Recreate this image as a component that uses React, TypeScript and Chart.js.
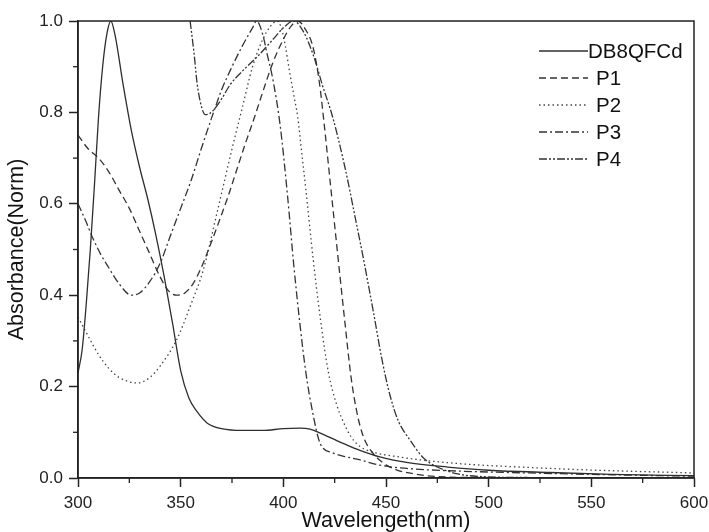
import React, { useEffect, useRef } from 'react';
import { Chart, registerables } from 'chart.js';
Chart.register(...registerables);

const seriesNames = ['DB8QFCd', 'P1', 'P2', 'P3', 'P4'];

const wlDB = [300, 302, 304, 306, 308, 310, 312, 314, 316, 318, 322, 326, 330, 334, 338, 342, 346, 350, 354, 358, 363, 370, 380, 390, 400, 408, 413, 418, 424, 430, 437, 447, 460, 480, 500, 530, 560, 600];
const absDB = [0.23, 0.28, 0.38, 0.5, 0.64, 0.79, 0.9, 0.97, 1.0, 0.97, 0.86, 0.76, 0.68, 0.61, 0.53, 0.44, 0.34, 0.235, 0.175, 0.145, 0.12, 0.108, 0.104, 0.104, 0.108, 0.109, 0.107, 0.098, 0.086, 0.074, 0.061, 0.046, 0.034, 0.024, 0.017, 0.012, 0.008, 0.005];

const wlP1 = [300, 305, 310, 315, 320, 325, 330, 335, 340, 344, 348, 352, 356, 360, 364, 369, 373, 377, 381, 386, 390, 395, 400, 404, 407, 411, 414, 416, 418, 420, 423, 426.6, 430, 433, 436, 439, 443, 448.6, 455, 465, 475, 500, 600];
const absP1 = [0.75, 0.72, 0.7, 0.67, 0.63, 0.59, 0.54, 0.49, 0.44, 0.41, 0.4, 0.405, 0.425, 0.46, 0.505, 0.565, 0.615, 0.67, 0.725, 0.79, 0.845, 0.91, 0.96, 0.99, 1.0, 0.98, 0.95, 0.91, 0.85, 0.77, 0.64, 0.484, 0.34, 0.22, 0.14, 0.09, 0.058, 0.033, 0.018, 0.008, 0.003, 0.001, 0.0];

const wlP2 = [300, 305, 310, 315, 320, 329, 335, 340, 348, 355, 361, 368, 375, 380, 385, 390, 394, 397, 399, 401, 403, 405, 407, 409, 411, 414.5, 418, 422, 426, 429, 433, 437, 445, 455, 468, 490, 520, 546, 600];
const absP2 = [0.352, 0.31, 0.27, 0.24, 0.22, 0.208, 0.22, 0.245, 0.302, 0.38, 0.455, 0.586, 0.72, 0.81, 0.9, 0.96, 0.99, 1.0, 0.985, 0.945, 0.89, 0.84, 0.79, 0.71, 0.63, 0.48, 0.35, 0.23, 0.16, 0.125, 0.09, 0.07, 0.055, 0.047, 0.039, 0.03, 0.023, 0.018, 0.011];

const wlP3 = [300, 304, 307, 311, 315, 320, 326, 330, 335, 340, 345, 350, 355, 360, 366, 370, 375, 380, 385, 387, 390, 392, 395, 398.5, 402, 405, 408, 411, 414, 418, 424, 430, 437, 447, 460, 480, 520, 560, 600];
const absP3 = [0.6, 0.56, 0.527, 0.49, 0.46, 0.425, 0.4, 0.405, 0.43, 0.47, 0.53, 0.59, 0.65, 0.72, 0.8, 0.85, 0.9, 0.945, 0.985, 1.0, 0.97, 0.93, 0.87, 0.77, 0.62, 0.47, 0.34, 0.23, 0.15, 0.075, 0.055, 0.047, 0.04, 0.028, 0.021, 0.016, 0.011, 0.007, 0.004];

const wlP4 = [354.6, 356.5, 358, 360, 362, 364, 366, 370, 374, 380, 388, 395, 400, 405, 410, 415, 419, 424, 430, 435, 439, 444, 448, 452, 456, 461.7, 468, 475, 485, 497, 520, 600];
const absP4 = [1.0, 0.93, 0.864, 0.815, 0.795, 0.797, 0.805, 0.83, 0.86, 0.89, 0.925, 0.96, 0.985, 1.0, 0.975, 0.92, 0.86, 0.79, 0.68, 0.57, 0.48, 0.36, 0.26, 0.18, 0.125, 0.083, 0.045, 0.024, 0.009, 0.003, 0.001, 0.0];

const xMinorTicks = [325, 375, 425, 475, 525, 575];
const yMinorTicks = [0.1, 0.3, 0.5, 0.7, 0.9];

const seriesWl = [wlDB, wlP1, wlP2, wlP3, wlP4];
const seriesAbs = [absDB, absP1, absP2, absP3, absP4];
const seriesDash = [[], [7, 4], [1.5, 3], [8, 3, 2, 3], [8, 2, 2, 2, 2, 2]];
const seriesColor = ['#2e2e2e', '#333333', '#444444', '#333333', '#333333'];

const FONT = "Arial, 'Liberation Sans', sans-serif";
const AXIS = '#222222';

const framePlugin = {
  id: 'frameMinorLegend',
  afterDraw(chart: any) {
    const { ctx, chartArea: a, scales } = chart;
    ctx.save();
    ctx.strokeStyle = AXIS;
    ctx.lineWidth = 1.5;
    ctx.strokeRect(a.left, a.top, a.right - a.left, a.bottom - a.top);
    ctx.lineWidth = 1.3;
    xMinorTicks.forEach((v) => {
      const px = scales.x.getPixelForValue(v);
      ctx.beginPath();
      ctx.moveTo(px, a.bottom);
      ctx.lineTo(px, a.bottom + 5);
      ctx.stroke();
    });
    yMinorTicks.forEach((v) => {
      const py = scales.y.getPixelForValue(v);
      ctx.beginPath();
      ctx.moveTo(a.left, py);
      ctx.lineTo(a.left - 5, py);
      ctx.stroke();
    });
    // legend
    ctx.font = `20.5px ${FONT}`;
    ctx.textBaseline = 'middle';
    ctx.textAlign = 'left';
    chart.data.datasets.forEach((ds: any, i: number) => {
      const y = a.top + 30 + i * 27;
      const x0 = 539;
      const x1 = 588;
      ctx.strokeStyle = ds.borderColor;
      ctx.lineWidth = 1.3;
      ctx.setLineDash(ds.borderDash || []);
      ctx.beginPath();
      ctx.moveTo(x0, y);
      ctx.lineTo(x1, y);
      ctx.stroke();
      ctx.setLineDash([]);
      ctx.fillStyle = '#111';
      ctx.fillText(ds.label, x1 + (i === 0 ? 0 : 8), y + 1);
    });
    ctx.restore();
  },
};

export default function App() {
  const ref = useRef<HTMLCanvasElement>(null);
  useEffect(() => {
    if (!ref.current) return;
    const chart = new Chart(ref.current, {
      type: 'line',
      data: {
        datasets: seriesNames.map((name, i) => ({
          label: name,
          data: seriesWl[i].map((x, j) => ({ x, y: seriesAbs[i][j] })),
          borderColor: seriesColor[i],
          borderWidth: 1.3,
          borderDash: seriesDash[i],
          pointRadius: 0,
          fill: false,
          cubicInterpolationMode: 'monotone',
        })),
      },
      options: {
        responsive: false,
        animation: false,
        events: [],
        layout: { padding: { top: 21, right: 15, left: 0, bottom: 0 } },
        plugins: { legend: { display: false }, tooltip: { enabled: false } },
        scales: {
          x: {
            type: 'linear',
            min: 300,
            max: 600,
            afterFit: (s: any) => { s.height = 54; s.paddingRight = 0; s.paddingLeft = 0; },
            ticks: { stepSize: 50, color: AXIS, font: { family: FONT, size: 17 }, padding: 6, maxRotation: 0 },
            grid: { drawOnChartArea: false, drawTicks: true, tickLength: 9, tickWidth: 1.5, tickColor: AXIS },
            border: { color: AXIS, width: 1.5 },
            title: { display: true, text: 'Wavelengeth(nm)', color: '#111', font: { family: FONT, size: 21.5, lineHeight: 1.05 }, padding: { top: 0, bottom: 0 } },
          },
          y: {
            type: 'linear',
            min: 0,
            max: 1,
            afterFit: (s: any) => { s.width = 78; s.paddingTop = 0; s.paddingBottom = 0; },
            ticks: { stepSize: 0.2, color: AXIS, font: { family: FONT, size: 17 }, padding: 6, callback: (v: any) => Number(v).toFixed(1) },
            grid: { drawOnChartArea: false, drawTicks: true, tickLength: 9, tickWidth: 1.5, tickColor: AXIS },
            border: { color: AXIS, width: 1.5 },
            title: { display: true, text: 'Absorbance(Norm)', color: '#111', font: { family: FONT, size: 21.5, lineHeight: 1.2 }, padding: { top: 4, bottom: 0 } },
          },
        },
      },
      plugins: [framePlugin],
    } as any);
    return () => chart.destroy();
  }, []);
  return (
    <div style={{ position: 'absolute', left: 0, top: 0, width: 709, height: 532, background: '#fff' }}>
      <canvas ref={ref} width={709} height={532} />
    </div>
  );
}
